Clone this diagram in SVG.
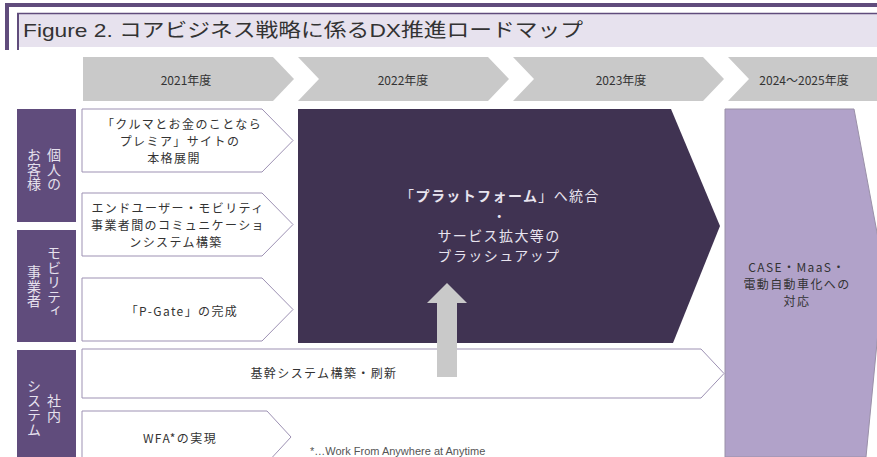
<svg xmlns="http://www.w3.org/2000/svg" width="877" height="457" viewBox="0 0 877 457">
<style>
.yr{fill:#c9c9c9}
.yt{font-family:"Noto Sans CJK JP","Noto Sans",sans-serif;font-size:12px;fill:#333;text-anchor:middle;dominant-baseline:central}
.cat{fill:#604c7c}
.ct{font-family:"Noto Sans CJK JP","Noto Sans",sans-serif;font-size:14px;fill:#e6e1ee;writing-mode:vertical-rl;letter-spacing:0.5px}
.wb{fill:#fff;stroke:#9d91b3;stroke-width:1}
.wt{font-family:"Noto Sans CJK JP","Noto Sans",sans-serif;font-size:12px;fill:#333;text-anchor:middle;dominant-baseline:central;letter-spacing:1.4px}
.dt{font-family:"Noto Sans CJK JP","Noto Sans",sans-serif;font-size:14px;fill:#e8e4ef;text-anchor:middle;dominant-baseline:central;letter-spacing:1.4px}
</style>
<rect width="877" height="457" fill="#fff"/>
<g id="title">
<rect x="5" y="3" width="872" height="4" fill="#604c7c"/>
<rect x="5" y="3" width="4" height="47" fill="#604c7c"/>
<rect x="17" y="13" width="860" height="34" fill="#e7e2ee"/>
<line x1="17" y1="13.5" x2="877" y2="13.5" stroke="#604c7c" stroke-width="1.5"/>
<rect x="17" y="13" width="2" height="37" fill="#604c7c"/>
<text x="23" y="37" font-family="'Liberation Sans','Noto Sans CJK JP',sans-serif" font-size="19" fill="#333" textLength="560" lengthAdjust="spacingAndGlyphs">Figure 2. コアビジネス戦略に係るDX推進ロードマップ</text>
</g>
<g id="year2021"><polygon class="yr" points="83,57 273,57 294,79 273,101 83,101"/><text class="yt" x="186" y="79">2021年度</text></g>
<g id="year2022"><polygon class="yr" points="298,57 488,57 509,79 488,101 298,101 319,79"/><text class="yt" x="403" y="79">2022年度</text></g>
<g id="year2023"><polygon class="yr" points="513,57 703,57 724,79 703,101 513,101 534,79"/><text class="yt" x="621" y="79">2023年度</text></g>
<g id="year2024"><polygon class="yr" points="728,57 877,57 877,101 728,101 749,79"/><text class="yt" x="804" y="79">2024～2025年度</text></g>
<g id="cat-personal"><rect class="cat" x="17" y="109" width="59" height="113"/>
<text class="ct" x="54" y="148">個人の</text>
<text class="ct" x="34" y="148">お客様</text></g>
<g id="cat-mobility"><rect class="cat" x="17" y="230" width="59" height="112"/>
<text class="ct" x="54" y="246">モビリティ</text>
<text class="ct" x="34" y="265">事業者</text></g>
<g id="cat-internal"><rect class="cat" x="17" y="350" width="59" height="107"/>
<text class="ct" x="34" y="379">システム</text>
<text class="ct" x="54" y="394">社内</text></g>
<g id="w-premia"><polygon class="wb" points="82,109 262,109 293,140.5 262,172 82,172"/>
<text class="wt"><tspan x="182" y="123">「クルマとお金のことなら</tspan><tspan x="180" y="140">プレミア」サイトの</tspan><tspan x="174" y="157">本格展開</tspan></text></g>
<g id="w-comm"><polygon class="wb" points="82,193 262,193 293,224.5 262,256 82,256"/>
<text class="wt"><tspan x="178" y="207">エンドユーザー・モビリティ</tspan><tspan x="178" y="224">事業者間のコミュニケーショ</tspan><tspan x="176" y="241">ンシステム構築</tspan></text></g>
<g id="w-pgate"><polygon class="wb" points="82,278 262,278 293,309.5 262,341 82,341"/>
<text class="wt" x="182" y="310">「P-Gate」の完成</text></g>
<g id="w-core"><polygon class="wb" points="82,349 701,349 724,373.5 701,398 82,398"/>
<text class="wt" x="324" y="372">基幹システム構築・刷新</text></g>
<g id="w-wfa"><polygon class="wb" points="82,411 267,411 291,437 267,463 82,463"/>
<text class="wt" x="180" y="437">WFA*の実現</text></g>
<g id="platform"><polygon fill="#403352" points="298,109 671,109 720,226 673,343 298,343"/>
<text class="dt"><tspan x="500" y="195">「<tspan font-weight="bold">プラットフォーム</tspan>」へ統合</tspan><tspan x="500" y="215">・</tspan><tspan x="499" y="235">サービス拡大等の</tspan><tspan x="499" y="255">ブラッシュアップ</tspan></text></g>
<g id="case"><polygon fill="#b1a2c9" stroke="#9a90a8" stroke-width="1" points="725,109 854,109 884,270 866,457 725,457"/>
<text class="wt"><tspan x="797" y="266">CASE・MaaS・</tspan><tspan x="797" y="283">電動自動車化への</tspan><tspan x="797" y="300">対応</tspan></text></g>
<g id="connectors">
<polygon fill="#c9c9c9" points="437,377 437,303 427,303 447,283 467,303 457,303 457,377"/>
</g>
<text x="310" y="455" font-family="'Liberation Sans',sans-serif" font-size="11" fill="#555">*…Work From Anywhere at Anytime</text>
</svg>
